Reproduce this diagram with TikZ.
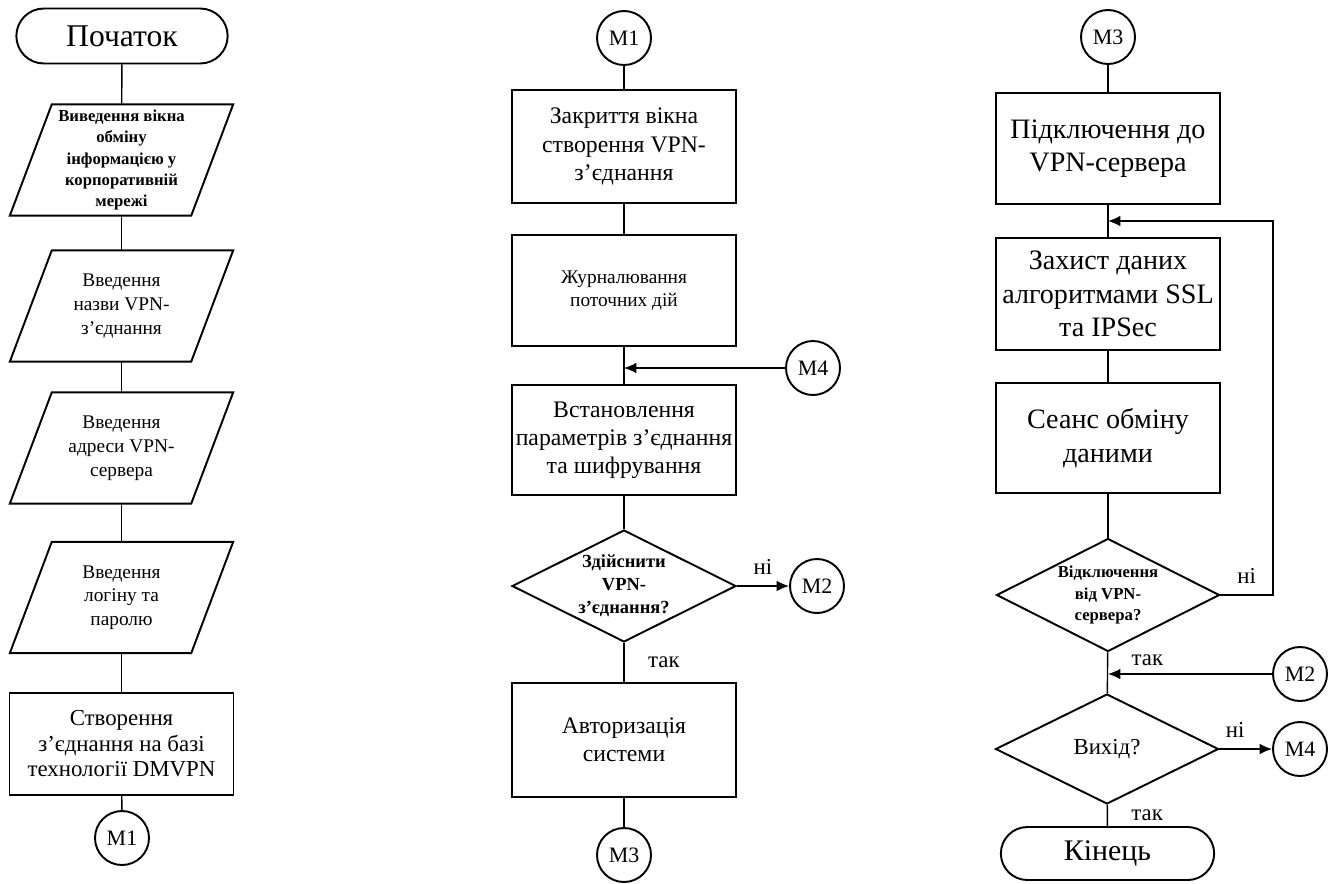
\documentclass[tikz,border=0pt]{standalone}
\usepackage{fontspec}
\setmainfont{Liberation Serif}
\usetikzlibrary{shapes.geometric, shapes.misc, arrows.meta}

\begin{document}
\begin{tikzpicture}[>={Latex[length=7pt,width=6pt]}, line width=0.8pt]
		\tikzstyle{term}=[rounded rectangle, draw, line width=1.1pt, minimum width=4.46cm, minimum height=1.1cm, font=\fontsize{18}{21}\selectfont]
		\tikzstyle{proc}=[rectangle, draw, line width=1.1pt, inner sep=2pt, minimum width=4.48cm, minimum height=2.2cm, align=center, font=\fontsize{13.5}{16}\selectfont]
		\tikzstyle{io}=[rectangle, inner sep=0pt, minimum width=3.6cm, minimum height=2.2cm, align=center, font=\fontsize{11}{13.5}\selectfont]
		\tikzstyle{decision}=[diamond, aspect=2, draw, line width=1.1pt, inner sep=0pt, minimum width=4.48cm, minimum height=2.24cm, align=center, font=\fontsize{13}{15}\selectfont]
		\tikzstyle{conn}=[circle, draw, line width=1.1pt, minimum size=1.08cm, inner sep=0pt, font=\fontsize{12.5}{15}\selectfont]
		\tikzstyle{lbl}=[font=\fontsize{13}{15}\selectfont]
		
		\useasboundingbox (0, 0) rectangle (26.76, -17.66);
		
		% first column
		\node[term] at (2.44, -0.72) (start) {Початок};
		\node[io, font=\bfseries\fontsize{9.5}{12}\selectfont] at (2.43, -3.2) (in1) {Виведення вікна\\обміну\\інформацією у\\корпоративній\\мережі};
		\node[io] at (2.43, -6.12) (in2) {Введення\\назви VPN-\\з’єднання};
		\node[io] at (2.43, -8.96) (in3) {Введення\\адреси VPN-\\сервера};
		\node[io] at (2.43, -11.95) (in4) {Введення\\логіну та\\паролю};
		\node[proc, minimum height=2.04cm, font=\fontsize{13}{14.5}\selectfont] at (2.43, -14.88) (dmvpn) {Створення\\з’єднання на базі\\технології DMVPN};
		\node[conn] at (2.44, -16.76) (m1a) {M1};
		
		% parallelograms round the input nodes
		\foreach \n in {in1, in2, in3, in4}
			\draw[line width=1.1pt] ([xshift=0.42cm]\n.north west) -- ([xshift=0.42cm]\n.north east)
				-- ([xshift=-0.42cm]\n.south east) -- ([xshift=-0.42cm]\n.south west) -- cycle;
		
		% second column
		\node[conn] at (12.48, -0.76) (m1b) {M1};
		\node[proc, minimum height=2.26cm] at (12.48, -2.93) (close) {Закриття вікна\\створення VPN-\\з’єднання};
		\node[proc, minimum height=2.22cm, font=\fontsize{11}{13.5}\selectfont] at (12.48, -5.81) (log) {Журналювання\\поточних дій};
		\coordinate (j1) at (12.48, -7.36);
		\node[conn] at (16.26, -7.36) (m4a) {M4};
		\node[proc] at (12.48, -8.8) (setp) {Встановлення\\параметрів з’єднання\\та шифрування};
		\node[decision, font=\bfseries\fontsize{10.5}{13}\selectfont] at (12.48, -11.72) (dec1) {Здійснити\\VPN-\\з’єднання?};
		\node[conn] at (16.34, -11.72) (m2a) {M2};
		\node[proc, minimum height=2.28cm] at (12.48, -14.8) (auth) {Авторизація\\системи};
		\node[conn] at (12.48, -17.1) (m3a) {M3};
		
		% third column
		\node[conn] at (22.16, -0.74) (m3b) {M3};
		\node[proc, minimum height=2.22cm, font=\fontsize{16}{19}\selectfont] at (22.16, -2.97) (conn) {Підключення до\\VPN-сервера};
		\coordinate (j2) at (22.16, -4.42);
		\node[proc, line width=1.6pt, minimum height=2.24cm, font=\fontsize{16}{19}\selectfont] at (22.16, -5.88) (prot) {Захист даних\\алгоритмами SSL\\та IPSec};
		\node[proc, font=\fontsize{16}{19}\selectfont] at (22.16, -8.76) (sess) {Сеанс обміну\\даними};
		\node[decision, minimum width=4.46cm, minimum height=2.26cm, font=\bfseries\fontsize{9.5}{12}\selectfont] at (22.16, -11.9) (dec2) {Відключення\\від VPN-\\сервера?};
		\coordinate (loop) at (25.46, -11.9);
		\coordinate (j3) at (22.16, -13.48);
		\node[conn] at (26, -13.48) (m2b) {M2};
		\node[decision, minimum width=4.46cm, minimum height=2.2cm] at (22.14, -14.98) (dec3) {Вихід?};
		\node[conn] at (26, -14.98) (m4b) {M4};
		\node[term, minimum width=4.5cm, minimum height=1.06cm, font=\fontsize{17}{20}\selectfont] at (22.15, -17.07) (end) {Кінець};
		
		\path
		(start) edge (in1)
		(in1) edge (in2)
		(in2) edge (in3)
		(in3) edge (in4)
		(in4) edge (dmvpn)
		(dmvpn) edge (m1a)
		(m1b) edge (close)
		(close) edge (log)
		(log) edge (setp)
		(m4a) edge[->] (j1)
		(setp) edge (dec1)
		(dec1) edge[->] node[lbl, above=3pt]{ні} (m2a)
		(dec1) edge node[lbl, right=10pt]{так} (auth)
		(auth) edge (m3a)
		(m3b) edge (conn)
		(conn) edge (prot)
		(prot) edge (sess)
		(sess) edge (dec2)
		(dec2) edge node[lbl, right=10pt, pos=0.2]{так} (dec3)
		(m2b) edge[->] (j3)
		(dec3) edge[->] node[lbl, above=3pt, pos=0.3]{ні} (m4b)
		(dec3) edge node[lbl, right=10pt]{так} (end);
		
		\draw[->] (dec2.east) -- node[lbl, above=3pt]{ні} (loop) |- (j2);
	\end{tikzpicture}
\end{document}
